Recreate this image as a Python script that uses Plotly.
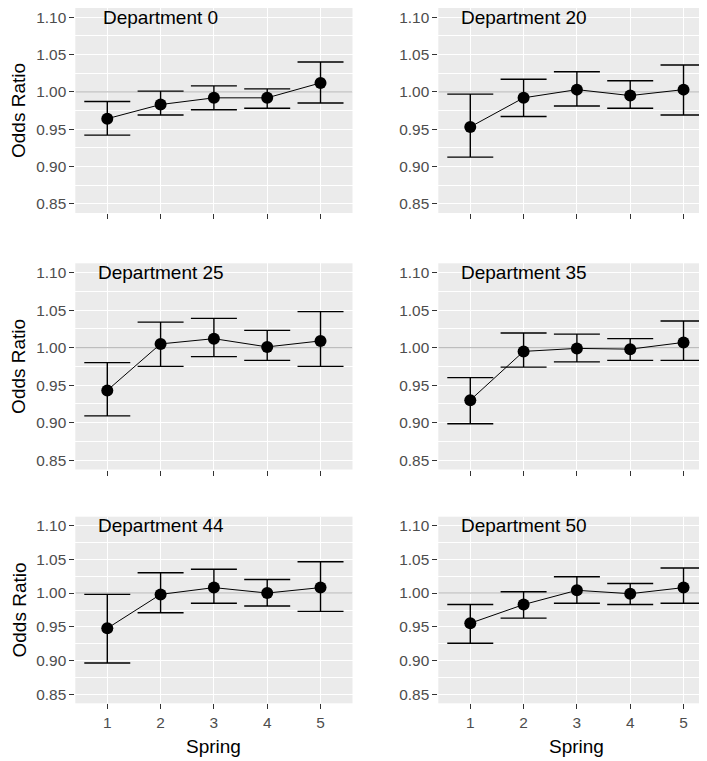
import plotly.graph_objects as go

# ---------------- data ----------------
departments = ["Department 0", "Department 20", "Department 25",
               "Department 35", "Department 44", "Department 50"]
spring = [1, 2, 3, 4, 5]
spring_labels = ["1", "2", "3", "4", "5"]
y_ticks = [0.85, 0.90, 0.95, 1.00, 1.05, 1.10]
y_minor = [0.875, 0.925, 0.975, 1.025, 1.075]

or_dept0 = [0.964, 0.983, 0.992, 0.992, 1.012]
lo_dept0 = [0.942, 0.969, 0.976, 0.978, 0.985]
hi_dept0 = [0.987, 1.001, 1.008, 1.004, 1.040]

or_dept20 = [0.953, 0.992, 1.003, 0.995, 1.003]
lo_dept20 = [0.9125, 0.967, 0.981, 0.978, 0.969]
hi_dept20 = [0.997, 1.017, 1.027, 1.015, 1.036]

or_dept25 = [0.943, 1.005, 1.012, 1.001, 1.009]
lo_dept25 = [0.909, 0.975, 0.988, 0.983, 0.975]
hi_dept25 = [0.980, 1.034, 1.039, 1.023, 1.048]

or_dept35 = [0.930, 0.995, 0.999, 0.998, 1.007]
lo_dept35 = [0.8985, 0.974, 0.981, 0.983, 0.983]
hi_dept35 = [0.960, 1.0195, 1.018, 1.012, 1.0355]

or_dept44 = [0.948, 0.998, 1.008, 1.000, 1.008]
lo_dept44 = [0.897, 0.971, 0.985, 0.981, 0.973]
hi_dept44 = [0.998, 1.030, 1.035, 1.020, 1.046]

or_dept50 = [0.9555, 0.983, 1.004, 0.999, 1.008]
lo_dept50 = [0.926, 0.963, 0.985, 0.983, 0.985]
hi_dept50 = [0.983, 1.002, 1.024, 1.014, 1.037]

reference_value = 1.0

series = [
    (or_dept0, lo_dept0, hi_dept0),
    (or_dept20, lo_dept20, hi_dept20),
    (or_dept25, lo_dept25, hi_dept25),
    (or_dept35, lo_dept35, hi_dept35),
    (or_dept44, lo_dept44, hi_dept44),
    (or_dept50, lo_dept50, hi_dept50),
]

# ---------------- layout geometry ----------------
# the page body has an 8px margin, so the figure is drawn 8px in from the
# window's top-left corner; geometry below is in window pixels.
OFF = 8
WIN_W, WIN_H = 707, 761
W, H = WIN_W - OFF, WIN_H - OFF
FONT = "Liberation Sans, Arial, sans-serif"

col_px = [(75.3, 352.5), (438.3, 707.0)]
row_px = [(8.0, 213.0), (263.3, 469.5), (516.7, 703.3)]
panel_w = col_px[0][1] - col_px[0][0]
x_full = [0.4, 5.6]

def fx(p):
    return min(max((p - OFF) / W, 0.0), 1.0)

def fy(p):
    return min(max(1 - (p - OFF) / H, 0.0), 1.0)

def xdom(c):
    return [fx(col_px[c][0]), fx(col_px[c][1])]

def ydom(r):
    return [fy(row_px[r][1]), fy(row_px[r][0])]

fig = go.Figure()
layout = dict(
    width=W, height=H,
    margin=dict(l=0, r=0, t=0, b=0, autoexpand=False),
    paper_bgcolor="white",
    plot_bgcolor="#EBEBEB",
    showlegend=False,
    font=dict(family=FONT),
)
annotations = []

for i, (name, (orv, lov, hiv)) in enumerate(zip(departments, series)):
    r, c = divmod(i, 2)
    n = i + 1
    xa = "x" if n == 1 else f"x{n}"
    ya = "y" if n == 1 else f"y{n}"
    xkey = "xaxis" if n == 1 else f"xaxis{n}"
    ykey = "yaxis" if n == 1 else f"yaxis{n}"

    shown_w = col_px[c][1] - col_px[c][0]
    xr = [x_full[0], x_full[0] + (x_full[1] - x_full[0]) * shown_w / panel_w]

    # grey reference line at odds ratio = 1 (hline across the panel)
    fig.add_trace(go.Scatter(
        x=xr, y=[reference_value, reference_value], xaxis=xa, yaxis=ya,
        mode="lines", line=dict(color="#B3B3B3", width=1),
        hoverinfo="skip",
    ))

    fig.add_trace(go.Scatter(
        x=spring, y=orv, xaxis=xa, yaxis=ya,
        mode="lines+markers",
        line=dict(color="black", width=1),
        marker=dict(color="black", size=12),
        error_y=dict(
            type="data", symmetric=False,
            array=[h - o for h, o in zip(hiv, orv)],
            arrayminus=[o - l for o, l in zip(orv, lov)],
            color="black", thickness=1.4, width=23,
        ),
        hoverinfo="skip",
    ))

    layout[xkey] = dict(
        domain=xdom(c), range=xr, anchor=ya,
        tickvals=spring, ticktext=spring_labels,
        showticklabels=(r == 2),
        ticks="outside", ticklen=5, tickwidth=1, tickcolor="#333333",
        tickfont=dict(size=15.4, color="#4D4D4D", family=FONT),
        showgrid=True, gridcolor="white", gridwidth=1.4,
        zeroline=False, showline=False, fixedrange=True,
    )
    layout[ykey] = dict(
        domain=ydom(r), range=[0.8375, 1.1125], anchor=xa,
        tickvals=y_ticks, ticktext=[f"{v:.2f}" for v in y_ticks],
        ticks="outside", ticklen=5, tickwidth=1, tickcolor="#333333",
        tickfont=dict(size=15.4, color="#4D4D4D", family=FONT),
        showgrid=True, gridcolor="white", gridwidth=1.4,
        minor=dict(tickvals=y_minor, showgrid=True,
                   gridcolor="white", gridwidth=0.7, ticks=""),
        zeroline=False, showline=False, fixedrange=True,
    )

    annotations.append(dict(
        x=2, y=1.10, xref=xa, yref=ya, text=name, showarrow=False,
        xanchor="center", yanchor="middle",
        font=dict(size=19, color="black", family=FONT),
    ))

    if c == 0:
        annotations.append(dict(
            x=fx(18.5), y=fy((row_px[r][0] + row_px[r][1]) / 2),
            xref="paper", yref="paper", text="Odds Ratio", textangle=-90,
            showarrow=False, xanchor="center", yanchor="middle",
            font=dict(size=19, color="black", family=FONT),
        ))
    if r == 2:
        cx = (col_px[c][0] + col_px[c][0] + panel_w) / 2
        annotations.append(dict(
            x=fx(cx), y=fy(746.7),
            xref="paper", yref="paper", text="Spring",
            showarrow=False, xanchor="center", yanchor="middle",
            font=dict(size=19, color="black", family=FONT),
        ))

layout["annotations"] = annotations
fig.update_layout(**layout)
fig.write_html("out.html")
